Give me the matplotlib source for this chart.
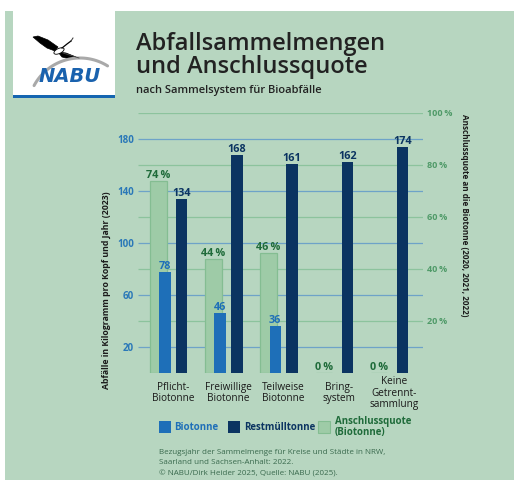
import numpy as np
import matplotlib
matplotlib.use('Agg')
import matplotlib.pyplot as plt
from matplotlib.transforms import blended_transform_factory
from matplotlib.patches import Rectangle, Polygon, Ellipse

categories = ['Pflicht-\nBiotonne', 'Freiwillige\nBiotonne', 'Teilweise\nBiotonne',
              'Bring-\nsystem', 'Keine\nGetrennt-\nsammlung']
biotonne = [78, 46, 36, None, None]
restmuell = [134, 168, 161, 162, 174]
quote = [74, 44, 46, 0, 0]
kg_ticks = [20, 60, 100, 140, 180]
pct_ticks = [20, 40, 60, 80, 100]

BG = '#b7d6c0'
NAVY = '#0b3461'
BLUE = '#1e6fb8'
LGREEN = '#9ecba7'
LGREEN_EDGE = '#84bd92'
DGREEN = '#1f6b3a'
TGREEN = '#4f9a68'
GRID_BLUE = '#6ea3c8'
GRID_GREEN = '#8cc39d'
FOOT = '#3a6a4e'

W, H = 515, 482


def fx(px):
    return px / W


def fy(py):
    return 1 - py / H


plt.rcParams['font.family'] = ['Open Sans', 'DejaVu Sans']

fig = plt.figure(figsize=(W / 100, H / 100), dpi=100, facecolor='white')
fig.patches.append(Rectangle((fx(5), fy(480)), fx(514) - fx(5), fy(11) - fy(480),
                             transform=fig.transFigure, facecolor=BG, edgecolor='none', zorder=-10))

# main axes: kg on the left (front), percent on the right (behind)
ax = fig.add_axes([fx(138), fy(373), fx(423) - fx(138), (373 - 113) / H])
ax2 = ax.twinx()
ax.set_zorder(2)
ax2.set_zorder(1)
ax.patch.set_visible(False)
ax2.patch.set_visible(False)

x = np.arange(len(categories))
ax.set_xlim(-0.37, 4.8)
ax.set_ylim(0, 200)
ax2.set_ylim(0, 100)

# grid lines (both behind the bars)
ax2.hlines(pct_ticks, 0, 1, transform=blended_transform_factory(ax2.transAxes, ax2.transData),
           color=GRID_GREEN, lw=0.9, zorder=0)
ax2.hlines(kg_ticks, 0, 1, transform=blended_transform_factory(ax2.transAxes, ax.transData),
           color=GRID_BLUE, lw=0.9, zorder=0)

# Anschlussquote bars
ax2.bar(x, quote, width=0.30, color=LGREEN, edgecolor=LGREEN_EDGE, linewidth=0.9, zorder=2)
for xi, q in zip(x, quote):
    ax2.annotate(f'{q}\u2009%', (xi, q), xytext=(0, 3), textcoords='offset pixels',
                 ha='center', va='baseline', color=DGREEN, fontsize=7.8, fontweight='bold')

# Biotonne / Restmuell bars
for xi, b in zip(x, biotonne):
    if b is None:
        continue
    ax.bar(xi + 0.12, b, width=0.205, color=BLUE, zorder=3)
    ax.annotate(str(b), (xi + 0.12, b), xytext=(0, 3), textcoords='offset pixels',
                ha='center', va='baseline', color=BLUE, fontsize=7.8, fontweight='bold')
ax.bar(x + 0.425, restmuell, width=0.205, color=NAVY, zorder=3)
for xi, r in zip(x, restmuell):
    ax.annotate(str(r), (xi + 0.425, r), xytext=(0, 3), textcoords='offset pixels',
                ha='center', va='baseline', color=NAVY, fontsize=7.8, fontweight='bold')

# category labels
for xi, c in zip(x, categories):
    ax.annotate(c, (xi + 0.27, 0), xytext=(0, -20), textcoords='offset pixels',
                ha='center', va='center', fontsize=7.2, color='#1a1a1a', linespacing=1.0)

for a in (ax, ax2):
    for s in a.spines.values():
        s.set_visible(False)
ax.set_xticks([])
ax.set_yticks(kg_ticks)
ax.set_yticklabels([str(v) for v in kg_ticks], fontweight='bold')
ax.tick_params(axis='y', length=0, pad=3, labelcolor='#2a78b8', labelsize=7)
ax2.set_yticks(pct_ticks)
ax2.set_yticklabels([f'{v}\u2009%' for v in pct_ticks], fontweight='bold')
ax2.tick_params(axis='y', length=0, pad=3, labelcolor=TGREEN, labelsize=6.5)

fig.text(fx(106.5), fy(290), 'Abfälle in Kilogramm pro Kopf und Jahr (2023)', rotation=90,
         ha='center', va='center', fontsize=6.3, fontweight='bold', color='#1a1a1a')
fig.text(fx(464), fy(215), 'Anschlussquote an die Biotonne (2020, 2021, 2022)', rotation=-90,
         ha='center', va='center', fontsize=5.9, fontweight='bold', color='#1a1a1a')

# title
fig.text(fx(136), fy(50), 'Abfallsammelmengen', fontsize=17, fontweight='semibold',
         color='#222222', va='baseline')
fig.text(fx(136), fy(73), 'und Anschlussquote', fontsize=17, fontweight='semibold',
         color='#222222', va='baseline')
fig.text(fx(136), fy(93), 'nach Sammelsystem für Bioabfälle', fontsize=8, fontweight='semibold',
         color='#222222', va='baseline')

# legend
legend_items = [(159, BLUE, 'none', 'Biotonne', BLUE, 174),
                (228, NAVY, 'none', 'Restmülltonne', NAVY, 244),
                (318, LGREEN, LGREEN_EDGE, 'Anschlussquote\n(Biotonne)', DGREEN, 335)]
for px, fc, ec, label, tc, tx in legend_items:
    fig.patches.append(Rectangle((fx(px), fy(433)), 12 / W, 12 / H, transform=fig.transFigure,
                                 facecolor=fc, edgecolor=ec, linewidth=0.8))
    fig.text(fx(tx), fy(427), label, fontsize=7, fontweight='bold', color=tc,
             ha='left', va='center', linespacing=1.0)

# footnote
foot_lines = ['Bezugsjahr der Sammelmenge für Kreise und Städte in NRW,',
              'Saarland und Sachsen-Anhalt: 2022.',
              '© NABU/Dirk Heider 2025, Quelle: NABU (2025).']
for py, line in zip([453.5, 464.5, 475.5], foot_lines):
    fig.text(fx(159), fy(py), line, fontsize=5.8, color=FOOT, va='baseline')

# logo
lg = fig.add_axes([fx(13), fy(98), fx(115) - fx(13), (98 - 11) / H])
lg.set_xlim(0, 102)
lg.set_ylim(87, 0)
lg.set_axis_off()
lg.add_patch(Rectangle((0, 0), 102, 84, facecolor='white', edgecolor='none'))
lg.add_patch(Rectangle((0, 84), 102, 3, facecolor='#1565b0', edgecolor='none'))
th = np.linspace(np.radians(58), np.radians(152), 60)
lg.plot(67 + 52 * np.cos(th), 99 - 52 * np.sin(th), color='#a9a9a9', lw=2.2, solid_capstyle='round')
lg.text(57, 71, 'NABU', fontsize=14, fontweight='bold', style='italic', color='#1a62ae',
        ha='center', va='baseline', family='DejaVu Sans')
# stork
lg.add_patch(Polygon([(20, 26), (25, 25), (35, 29), (45, 36), (42, 40), (34, 37), (27, 32)],
                     closed=True, facecolor='black', edgecolor='black', lw=0.5))
lg.add_patch(Polygon([(45, 41), (53, 42), (63, 46), (57, 48), (49, 46)],
                     closed=True, facecolor='black', edgecolor='black', lw=0.5))
lg.add_patch(Ellipse((46, 40), 11, 5, angle=-25, facecolor='white', edgecolor='black', lw=0.6))
lg.plot([49, 54, 58], [37, 33, 30], color='black', lw=0.9)
lg.plot([58, 60], [30, 27], color='#333333', lw=0.7)
lg.plot([50, 66], [42, 47], color='#444444', lw=0.6)

fig.savefig('out.png', dpi=100, facecolor='white')
